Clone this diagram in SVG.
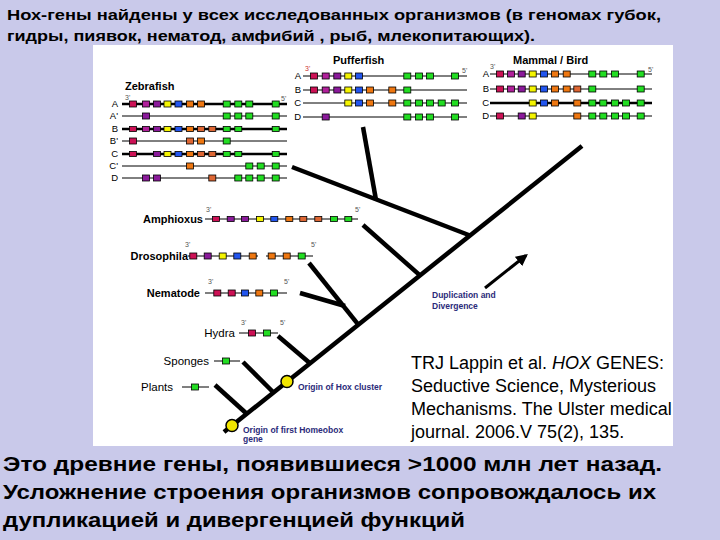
<svg xmlns="http://www.w3.org/2000/svg" width="720" height="540" viewBox="0 0 720 540">
<defs>
<style>
text{font-family:"Liberation Sans",Arial,sans-serif;fill:#000}
.h{font-weight:bold}
.lbl{font-size:11px;font-weight:bold}
.lr{font-size:11.5px}
.row{font-size:9.5px}
.end{font-size:7px;fill:#555}
.blue{font-size:8.5px;font-weight:bold;fill:#2b2b7a}
.ln{stroke:#000;stroke-width:1;fill:none}
.lt{stroke:#000;stroke-width:2.5;fill:none}
.br{stroke:#000;stroke-width:4.5;fill:none}
rect.g{stroke:#000;stroke-width:0.8}
.c{fill:#cc1155}.m{fill:#b0209a}.p{fill:#8a1a9a}.y{fill:#f4f400}.b{fill:#2255ee}.o{fill:#ee7711}.s{fill:#dd6633}.gr{fill:#22dd22}
</style>
<marker id="ah" viewBox="0 0 10 10" refX="8" refY="5" markerWidth="4" markerHeight="4" orient="auto"><path d="M0,0 L10,5 L0,10 z" fill="#000"/></marker>
</defs>
<rect width="720" height="540" fill="#c9c9ea"/>
<rect x="93" y="45" width="580" height="401" fill="#fff"/>

<g id="title">
<text class="h" x="7" y="20" font-size="15.5" textLength="654" lengthAdjust="spacingAndGlyphs">Нох-гены найдены у всех исследованных организмов (в геномах губок,</text>
<text class="h" x="7" y="41" font-size="15.5" textLength="528" lengthAdjust="spacingAndGlyphs">гидры, пиявок, нематод, амфибий , рыб, млекопитающих).</text>
</g>

<g id="connectors">
<line class="br" x1="224" y1="432" x2="582" y2="146"/>
<line class="br" x1="215" y1="385" x2="247" y2="414"/>
<line class="br" x1="243" y1="362" x2="273.5" y2="392.5"/>
<line class="br" x1="278" y1="336" x2="310" y2="363.3"/>
<line class="br" x1="300" y1="293" x2="345" y2="306"/>
<line class="br" x1="309" y1="263" x2="358.3" y2="324.7"/>
<line class="br" x1="363" y1="225" x2="420" y2="275.4"/>
<line class="br" x1="292" y1="167" x2="470" y2="235.5"/>
<line class="br" x1="363" y1="127" x2="376" y2="200"/>
<line x1="485" y1="288" x2="526" y2="255.5" stroke="#000" stroke-width="3" marker-end="url(#ah)"/>
</g>

<g id="zebrafish">
<text class="lbl" x="125" y="90" font-size="10.5">Zebrafish</text>
<text class="end" x="125" y="100">3'</text>
<text class="end" x="281" y="101">5'</text>
<g class="row" text-anchor="end">
<text x="118" y="107">A</text><text x="118" y="119">A'</text><text x="118" y="132">B</text><text x="118" y="144">B'</text><text x="118" y="157">C</text><text x="118" y="169">C'</text><text x="118" y="181">D</text>
</g>
<line class="lt" x1="122" y1="104" x2="287" y2="104"/>
<line class="ln" x1="122" y1="116" x2="287" y2="116"/>
<line class="lt" x1="122" y1="129" x2="287" y2="129"/>
<line class="ln" x1="122" y1="141" x2="287" y2="141"/>
<line class="lt" x1="122" y1="154" x2="287" y2="154" stroke-width="2"/>
<line class="ln" x1="122" y1="166" x2="287" y2="166"/>
<line class="ln" x1="122" y1="178" x2="287" y2="178"/>
<g>
<rect class="g c" x="129.5" y="101" width="7" height="6"/><rect class="g m" x="142.5" y="101" width="7" height="6"/><rect class="g p" x="153.5" y="101" width="7" height="6"/><rect class="g y" x="164" y="101" width="7" height="6"/><rect class="g b" x="175" y="101" width="7" height="6"/><rect class="g o" x="186.5" y="101" width="7" height="6"/><rect class="g o" x="197.5" y="101" width="7" height="6"/><rect class="g gr" x="223.2" y="101" width="7" height="6"/><rect class="g gr" x="234.8" y="101" width="7" height="6"/><rect class="g gr" x="245.8" y="101" width="7" height="6"/><rect class="g gr" x="272.2" y="101" width="7" height="6"/>
<rect class="g p" x="142.5" y="113" width="7" height="6"/><rect class="g gr" x="223.2" y="113" width="7" height="6"/><rect class="g gr" x="234.8" y="113" width="7" height="6"/><rect class="g gr" x="245.8" y="113" width="7" height="6"/><rect class="g gr" x="272.2" y="113" width="7" height="6"/>
<rect class="g c" x="129.5" y="126.5" width="7" height="5"/><rect class="g m" x="142.5" y="126.5" width="7" height="5"/><rect class="g p" x="153.5" y="126.5" width="7" height="5"/><rect class="g y" x="164" y="126.5" width="7" height="5"/><rect class="g b" x="175" y="126.5" width="7" height="5"/><rect class="g o" x="186.5" y="126.5" width="7" height="5"/><rect class="g s" x="197.5" y="126.5" width="7" height="5"/><rect class="g s" x="208.8" y="126.5" width="7" height="5"/><rect class="g gr" x="223.2" y="126.5" width="7" height="5"/><rect class="g gr" x="234.8" y="126.5" width="7" height="5"/><rect class="g gr" x="272.2" y="126.5" width="7" height="5"/>
<rect class="g c" x="129.5" y="138" width="7" height="6"/><rect class="g s" x="186.5" y="138" width="7" height="6"/><rect class="g o" x="197.5" y="138" width="7" height="6"/><rect class="g gr" x="223.2" y="138" width="7" height="6"/>
<rect class="g c" x="129.5" y="151.5" width="7" height="5"/><rect class="g p" x="153.5" y="151.5" width="7" height="5"/><rect class="g y" x="164" y="151.5" width="7" height="5"/><rect class="g b" x="175" y="151.5" width="7" height="5"/><rect class="g o" x="186.5" y="151.5" width="7" height="5"/><rect class="g s" x="197.5" y="151.5" width="7" height="5"/><rect class="g s" x="208.8" y="151.5" width="7" height="5"/><rect class="g gr" x="223.2" y="151.5" width="7" height="5"/><rect class="g gr" x="234.8" y="151.5" width="7" height="5"/><rect class="g gr" x="272.2" y="151.5" width="7" height="5"/>
<rect class="g o" x="186.5" y="163" width="7" height="6"/><rect class="g gr" x="245.8" y="163" width="7" height="6"/><rect class="g gr" x="257.2" y="163" width="7" height="6"/><rect class="g gr" x="272.2" y="163" width="7" height="6"/>
<rect class="g p" x="142.5" y="175" width="7" height="6"/><rect class="g p" x="153.5" y="175" width="7" height="6"/><rect class="g s" x="208.8" y="175" width="7" height="6"/><rect class="g gr" x="234.8" y="175" width="7" height="6"/><rect class="g gr" x="245.8" y="175" width="7" height="6"/><rect class="g gr" x="257.2" y="175" width="7" height="6"/><rect class="g gr" x="272.2" y="175" width="7" height="6"/>
</g>
</g>

<g id="pufferfish">
<text class="lbl" x="333" y="64">Pufferfish</text>
<text class="end" x="305" y="71" style="fill:#cc3333">3'</text>
<text class="end" x="462" y="73" font-size="8">5'</text>
<g class="row" text-anchor="end">
<text x="301" y="79">A</text><text x="301" y="93">B</text><text x="301" y="106">C</text><text x="301" y="120">D</text>
</g>
<line class="ln" x1="303" y1="76" x2="467" y2="76"/>
<line class="ln" x1="303" y1="90" x2="467" y2="90"/>
<line class="ln" x1="303" y1="103" x2="467" y2="103"/>
<line class="ln" x1="303" y1="117" x2="467" y2="117"/>
<rect class="g c" x="310.5" y="73" width="7" height="6"/><rect class="g m" x="322.2" y="73" width="7" height="6"/><rect class="g p" x="333.8" y="73" width="7" height="6"/><rect class="g y" x="344.8" y="73" width="7" height="6"/><rect class="g b" x="355.5" y="73" width="7" height="6"/><rect class="g gr" x="403.8" y="73" width="7" height="6"/><rect class="g gr" x="415.5" y="73" width="7" height="6"/><rect class="g gr" x="426.5" y="73" width="7" height="6"/><rect class="g gr" x="451.5" y="73" width="7" height="6"/>
<rect class="g c" x="310.5" y="87" width="7" height="6"/><rect class="g m" x="322.2" y="87" width="7" height="6"/><rect class="g p" x="333.8" y="87" width="7" height="6"/><rect class="g y" x="344.8" y="87" width="7" height="6"/><rect class="g b" x="355.5" y="87" width="7" height="6"/><rect class="g o" x="366.5" y="87" width="7" height="6"/><rect class="g o" x="388.8" y="87" width="7" height="6"/><rect class="g gr" x="403.8" y="87" width="7" height="6"/>
<rect class="g y" x="344.8" y="100" width="7" height="6"/><rect class="g b" x="355.5" y="100" width="7" height="6"/><rect class="g o" x="366.5" y="100" width="7" height="6"/><rect class="g o" x="388.8" y="100" width="7" height="6"/><rect class="g gr" x="403.8" y="100" width="7" height="6"/><rect class="g gr" x="415.5" y="100" width="7" height="6"/><rect class="g gr" x="426.5" y="100" width="7" height="6"/><rect class="g gr" x="438.2" y="100" width="7" height="6"/><rect class="g gr" x="451.5" y="100" width="7" height="6"/>
<rect class="g p" x="322.2" y="114" width="7" height="6"/><rect class="g gr" x="403.8" y="114" width="7" height="6"/><rect class="g gr" x="415.5" y="114" width="7" height="6"/><rect class="g gr" x="426.5" y="114" width="7" height="6"/><rect class="g gr" x="451.5" y="114" width="7" height="6"/>
</g>

<g id="mammal-bird">
<text class="lbl" x="513" y="64">Mammal / Bird</text>
<text class="end" x="490" y="69">3'</text>
<text class="end" x="648" y="72" font-size="8">5'</text>
<g class="row" text-anchor="end">
<text x="489" y="77">A</text><text x="489" y="92">B</text><text x="489" y="106">C</text><text x="489" y="119">D</text>
</g>
<line class="ln" x1="490" y1="74" x2="652" y2="74"/>
<line class="ln" x1="490" y1="89" x2="652" y2="89"/>
<line class="lt" x1="490" y1="103" x2="652" y2="103"/>
<line class="ln" x1="490" y1="116" x2="652" y2="116"/>
<rect class="g c" x="496.5" y="71" width="7" height="6"/><rect class="g m" x="507.5" y="71" width="7" height="6"/><rect class="g p" x="518.2" y="71" width="7" height="6"/><rect class="g y" x="529.2" y="71" width="7" height="6"/><rect class="g b" x="540.5" y="71" width="7" height="6"/><rect class="g o" x="551.5" y="71" width="7" height="6"/><rect class="g o" x="563.2" y="71" width="7" height="6"/><rect class="g gr" x="588.8" y="71" width="7" height="6"/><rect class="g gr" x="599.8" y="71" width="7" height="6"/><rect class="g gr" x="611.5" y="71" width="7" height="6"/><rect class="g gr" x="637.2" y="71" width="7" height="6"/>
<rect class="g c" x="496.5" y="86" width="7" height="6"/><rect class="g m" x="507.5" y="86" width="7" height="6"/><rect class="g p" x="518.2" y="86" width="7" height="6"/><rect class="g y" x="529.2" y="86" width="7" height="6"/><rect class="g b" x="540.5" y="86" width="7" height="6"/><rect class="g o" x="551.5" y="86" width="7" height="6"/><rect class="g o" x="563.2" y="86" width="7" height="6"/><rect class="g s" x="573.8" y="86" width="7" height="6"/><rect class="g gr" x="588.8" y="86" width="7" height="6"/><rect class="g gr" x="637.2" y="86" width="7" height="6"/>
<rect class="g y" x="529.2" y="100" width="7" height="6"/><rect class="g b" x="540.5" y="100" width="7" height="6"/><rect class="g o" x="551.5" y="100" width="7" height="6"/><rect class="g o" x="573.8" y="100" width="7" height="6"/><rect class="g gr" x="588.8" y="100" width="7" height="6"/><rect class="g gr" x="599.8" y="100" width="7" height="6"/><rect class="g gr" x="611.5" y="100" width="7" height="6"/><rect class="g gr" x="622.5" y="100" width="7" height="6"/><rect class="g gr" x="637.2" y="100" width="7" height="6"/>
<rect class="g c" x="496.5" y="113" width="7" height="6"/><rect class="g p" x="518.2" y="113" width="7" height="6"/><rect class="g y" x="529.2" y="113" width="7" height="6"/><rect class="g o" x="573.8" y="113" width="7" height="6"/><rect class="g gr" x="588.8" y="113" width="7" height="6"/><rect class="g gr" x="599.8" y="113" width="7" height="6"/><rect class="g gr" x="611.5" y="113" width="7" height="6"/><rect class="g gr" x="622.5" y="113" width="7" height="6"/><rect class="g gr" x="637.2" y="113" width="7" height="6"/>
</g>

<g id="amphioxus">
<text class="lbl" x="203" y="223" text-anchor="end">Amphioxus</text>
<text class="end" x="206" y="212">3'</text>
<text class="end" x="355" y="212">5'</text>
<line class="ln" x1="205" y1="219" x2="358" y2="219"/>
<rect class="g c" x="212.5" y="216.5" width="7" height="5"/><rect class="g p" x="227.2" y="216.5" width="7" height="5"/><rect class="g p" x="241.5" y="216.5" width="7" height="5"/><rect class="g y" x="256.5" y="216.5" width="7" height="5"/><rect class="g b" x="270.8" y="216.5" width="7" height="5"/><rect class="g o" x="285.8" y="216.5" width="7" height="5"/><rect class="g s" x="299.8" y="216.5" width="7" height="5"/><rect class="g s" x="314.8" y="216.5" width="7" height="5"/><rect class="g gr" x="330.5" y="216.5" width="7" height="5"/><rect class="g gr" x="344.8" y="216.5" width="7" height="5"/>
</g>

<g id="drosophila">
<text class="lbl" x="188" y="260" text-anchor="end" font-size="11.5">Drosophila</text>
<text class="end" x="185" y="247">3'</text>
<text class="end" x="311" y="247">5'</text>
<line class="ln" x1="188" y1="256" x2="258" y2="256"/>
<line class="ln" x1="266" y1="256" x2="313" y2="256"/>
<rect class="g c" x="189.8" y="253" width="7" height="6"/><rect class="g p" x="204.2" y="253" width="7" height="6"/><rect class="g y" x="219.2" y="253" width="7" height="6"/><rect class="g b" x="233.8" y="253" width="7" height="6"/><rect class="g o" x="249.2" y="253" width="7" height="6"/><rect class="g o" x="268.2" y="253" width="7" height="6"/><rect class="g o" x="283.2" y="253" width="7" height="6"/><rect class="g gr" x="298.2" y="253" width="7" height="6"/>
</g>

<g id="nematode">
<text class="lbl" x="200" y="297" text-anchor="end">Nematode</text>
<text class="end" x="208" y="284">3'</text>
<text class="end" x="284" y="284">5'</text>
<line class="ln" x1="205" y1="293" x2="287" y2="293"/>
<rect class="g c" x="213.8" y="290" width="7" height="6"/><rect class="g c" x="228.2" y="290" width="7" height="6"/><rect class="g b" x="241.5" y="290" width="7" height="6"/><rect class="g o" x="255.8" y="290" width="7" height="6"/><rect class="g gr" x="270.5" y="290" width="7" height="6"/>
</g>

<g id="hydra">
<text class="lr" x="235" y="337" text-anchor="end">Hydra</text>
<text class="end" x="241" y="325">3'</text>
<text class="end" x="280" y="325">5'</text>
<line class="ln" x1="239" y1="333" x2="278" y2="333"/>
<rect class="g c" x="248.5" y="330" width="7" height="6"/><rect class="g gr" x="263.5" y="330" width="7" height="6"/>
</g>

<g id="sponges">
<text class="lr" x="209" y="365" text-anchor="end">Sponges</text>
<line class="ln" x1="214" y1="361" x2="240" y2="361"/>
<rect class="g gr" x="222.5" y="358" width="7" height="6"/>
</g>

<g id="plants">
<text class="lr" x="173" y="391" text-anchor="end">Plants</text>
<line class="ln" x1="182" y1="387" x2="209" y2="387"/>
<rect class="g gr" x="191.5" y="384" width="7" height="6"/>
</g>

<g id="origin-hox">
<circle cx="287" cy="381.5" r="6" fill="#f2e600" stroke="#000" stroke-width="1.5"/>
<text class="blue" x="298" y="390">Origin of Hox cluster</text>
</g>

<g id="origin-homeobox">
<circle cx="232" cy="425.5" r="6" fill="#f2e600" stroke="#000" stroke-width="1.5"/>
<text class="blue" x="243" y="433">Origin of first Homeobox</text>
<text class="blue" x="243" y="442">gene</text>
</g>

<g id="duplication">
<text class="blue" x="432" y="298">Duplication and</text>
<text class="blue" x="432" y="309">Divergence</text>
</g>

<g id="citation" font-size="18">
<text x="411" y="369">TRJ Lappin et al. <tspan font-style="italic">HOX</tspan> GENES:</text>
<text x="411" y="392">Seductive Science, Mysterious</text>
<text x="411" y="415">Mechanisms. The Ulster medical</text>
<text x="411" y="438">journal. 2006.V 75(2), 135.</text>
</g>

<g id="summary" font-size="21" font-weight="bold">
<text x="3" y="471" textLength="659" lengthAdjust="spacingAndGlyphs">Это древние гены, появившиеся &gt;1000 млн лет назад.</text>
<text x="3" y="499" textLength="653" lengthAdjust="spacingAndGlyphs">Усложнение строения организмов сопровождалось их</text>
<text x="3" y="527" textLength="462" lengthAdjust="spacingAndGlyphs">дупликацией и дивергенцией функций</text>
</g>
</svg>
